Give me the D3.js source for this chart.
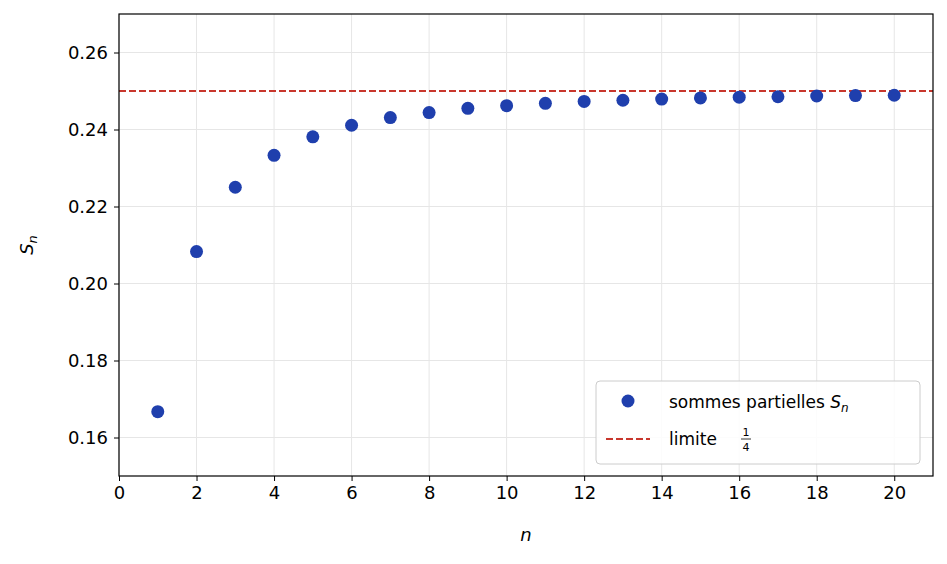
<!DOCTYPE html>
<html><head><meta charset="utf-8">
<script src="https://cdn.jsdelivr.net/npm/d3@7"></script>
<style>body{margin:0;background:#fff}text{font-family:"DejaVu Sans",sans-serif}</style>
</head><body><svg id="c" width="947" height="564"></svg>
<script>
var nValues = [1,2,3,4,5,6,7,8,9,10,11,12,13,14,15,16,17,18,19,20];
var sValues = [0.1667,0.2083,0.2250,0.2333,0.2381,0.2411,0.2431,0.2444,0.2455,0.2462,
               0.2468,0.2473,0.2476,0.2479,0.2482,0.2484,0.2485,0.2487,0.2488,0.2489];
var limit = 0.25;
var xTicks = [0,2,4,6,8,10,12,14,16,18,20];
var yTicks = [0.16,0.18,0.20,0.22,0.24,0.26];

var svg = d3.select("#c");
var L = 119, R = 933, T = 14, B = 476;
var x = d3.scaleLinear().domain([0,21]).range([L,R]);
var y = d3.scaleLinear().domain([0.15,0.27]).range([B,T]);

// grid
var g = svg.append("g");
xTicks.forEach(function(t){ g.append("line").attr("x1",x(t)).attr("x2",x(t)).attr("y1",T).attr("y2",B).attr("stroke","#e6e6e6").attr("stroke-width",1); });
yTicks.forEach(function(t){ g.append("line").attr("x1",L).attr("x2",R).attr("y1",y(t)).attr("y2",y(t)).attr("stroke","#e6e6e6").attr("stroke-width",1); });

// limit line
svg.append("line").attr("x1",L).attr("x2",R).attr("y1",y(limit)).attr("y2",y(limit))
  .attr("stroke","#c8372d").attr("stroke-width",2).attr("stroke-dasharray","7,3");

// points
svg.selectAll("circle.p").data(nValues).enter().append("circle")
  .attr("cx",function(d){return x(d);}).attr("cy",function(d,i){return y(sValues[i]);})
  .attr("r",6.5).attr("fill","#1f3fad");

// axes
var xa = svg.append("g").attr("transform","translate(0,"+B+")")
  .call(d3.axisBottom(x).tickValues(xTicks).tickSize(5).tickPadding(5).tickFormat(d3.format("d")));
var ya = svg.append("g").attr("transform","translate("+L+",0)")
  .call(d3.axisLeft(y).tickValues(yTicks).tickSize(5).tickPadding(6).tickFormat(d3.format(".2f")));
[xa,ya].forEach(function(a){
  a.attr("font-size",null).attr("font-family",null);
  a.select(".domain").remove();
  a.selectAll("text").style("font-size","18px").attr("fill","#000");
  a.selectAll("line").attr("stroke","#000");
});
svg.append("rect").attr("x",L).attr("y",T).attr("width",R-L).attr("height",B-T)
  .attr("fill","none").attr("stroke","#000").attr("stroke-width",1.2);

// labels
svg.append("text").attr("x",(L+R)/2).attr("y",541).attr("text-anchor","middle")
  .style("font-size","18px").attr("font-style","italic").text("n");
var yl = svg.append("text").attr("transform","translate(33,"+((T+B)/2)+") rotate(-90)")
  .attr("text-anchor","middle").style("font-size","18px");
yl.append("tspan").attr("font-style","italic").text("S");
yl.append("tspan").attr("font-style","italic").style("font-size","13px").attr("dy",4).text("n");

// legend
var lg = svg.append("g");
lg.append("rect").attr("x",596).attr("y",381).attr("width",324).attr("height",83).attr("rx",4)
  .attr("fill","#fff").attr("fill-opacity",0.85).attr("stroke","#ccc");
lg.append("circle").attr("cx",628).attr("cy",401).attr("r",6.5).attr("fill","#1f3fad");
var t1 = lg.append("text").attr("x",669).attr("y",408).style("font-size","17px");
t1.append("tspan").text("sommes partielles ");
t1.append("tspan").attr("font-style","italic").text("S");
t1.append("tspan").attr("font-style","italic").style("font-size","12px").attr("dy",4).text("n");
lg.append("line").attr("x1",606).attr("x2",650).attr("y1",439).attr("y2",439)
  .attr("stroke","#c8372d").attr("stroke-width",2).attr("stroke-dasharray","7,3");
lg.append("text").attr("x",669).attr("y",445).style("font-size","17px").text("limite");
lg.append("text").attr("x",746).attr("y",436).style("font-size","11px").attr("text-anchor","middle").text("1");
lg.append("line").attr("x1",741).attr("x2",751).attr("y1",439).attr("y2",439).attr("stroke","#000").attr("stroke-width",0.8);
lg.append("text").attr("x",746).attr("y",451).style("font-size","11px").attr("text-anchor","middle").text("4");
</script></body></html>
